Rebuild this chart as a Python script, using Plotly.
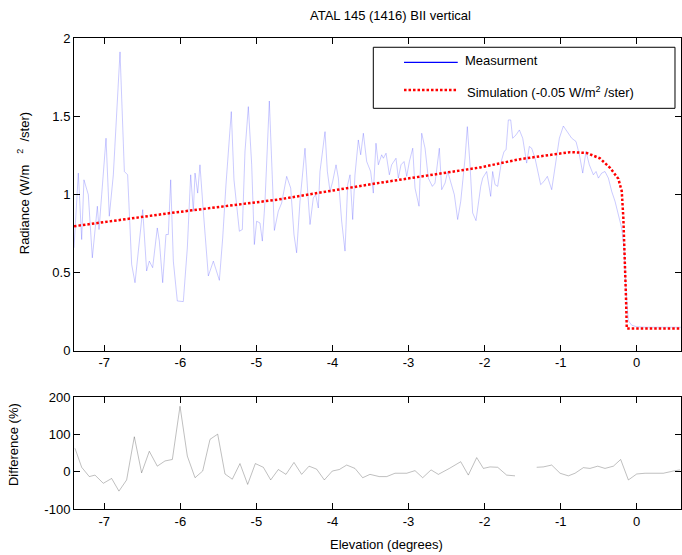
import plotly.graph_objects as go

# ---- data ----
meas_x = [-7.398, -7.341, -7.297, -7.267, -7.210, -7.157, -7.091, -7.069, -7.034, -6.977,
          -6.934, -6.881, -6.793, -6.736, -6.693, -6.640, -6.596, -6.552, -6.495, -6.443,
          -6.408, -6.364, -6.303, -6.276, -6.232, -6.189, -6.158, -6.127, -6.092, -6.040,
          -5.961, -5.908, -5.864, -5.829, -5.807, -5.772, -5.742, -5.698, -5.632, -5.566,
          -5.487, -5.443, -5.400, -5.330, -5.295, -5.224, -5.185, -5.150, -5.106, -5.062,
          -5.027, -4.997, -4.953, -4.922, -4.887, -4.830, -4.799, -4.764, -4.712, -4.668,
          -4.602, -4.549, -4.506, -4.471, -4.427, -4.361, -4.326, -4.295, -4.252, -4.221,
          -4.186, -4.164, -4.098, -4.067, -4.032, -3.997, -3.953, -3.923, -3.879, -3.835,
          -3.800, -3.769, -3.734, -3.704, -3.660, -3.629, -3.594, -3.550, -3.498, -3.463,
          -3.428, -3.397, -3.353, -3.331, -3.296, -3.252, -3.222, -3.165, -3.134, -3.099,
          -3.059, -3.024, -2.989, -2.945, -2.915, -2.862, -2.827, -2.783, -2.740, -2.687,
          -2.652, -2.595, -2.564, -2.520, -2.485, -2.455, -2.398, -2.354, -2.314, -2.257,
          -2.227, -2.192, -2.157, -2.113, -2.051, -2.025, -1.973, -1.920, -1.894, -1.863,
          -1.828, -1.775, -1.745, -1.718, -1.688, -1.657, -1.631, -1.587, -1.543, -1.499,
          -1.469, -1.447, -1.412, -1.381, -1.337, -1.293, -1.263, -1.219, -1.175, -1.118,
          -1.074, -1.017, -0.965, -0.912, -0.855, -0.798, -0.754, -0.710, -0.667, -0.623,
          -0.570, -0.535, -0.504, -0.461, -0.417, -0.373, -0.329, -0.285, -0.242, -0.198,
          -0.167, -0.141, -0.110, -0.066, 0.000, 0.109, 0.580]
meas_y = [0.658, 1.136, 0.711, 1.093, 0.998, 0.594, 0.924, 0.775, 0.998, 1.359,
          0.860, 1.125, 1.911, 1.146, 1.125, 0.552, 0.435, 0.658, 0.902, 0.510,
          0.573, 0.531, 0.785, 0.701, 0.435, 0.743, 0.743, 1.093, 0.573, 0.318,
          0.314, 0.658, 1.125, 0.892, 1.136, 1.008, 1.189, 0.892, 0.478, 0.573,
          0.450, 0.722, 1.062, 1.529, 1.093, 0.764, 0.775, 1.274, 1.561, 1.189,
          0.679, 0.828, 0.817, 0.701, 0.955, 1.597, 1.189, 0.769, 0.892, 0.945,
          1.115, 1.040, 0.743, 0.626, 0.955, 1.295, 1.019, 0.807, 0.977, 0.998,
          0.913, 1.146, 1.401, 1.146, 1.019, 1.083, 1.189, 1.104, 0.828, 0.637,
          1.062, 1.125, 0.839, 1.125, 1.348, 1.253, 1.391, 1.210, 1.146, 1.008,
          1.327, 1.189, 1.253, 1.231, 1.263, 1.125, 1.189, 1.231, 1.104, 1.189,
          1.210, 1.115, 1.210, 1.295, 1.040, 0.924, 1.391, 1.295, 1.104, 1.051,
          1.072, 1.295, 1.030, 1.072, 1.146, 1.093, 0.998, 0.839, 0.955, 1.231,
          1.433, 1.189, 0.881, 0.832, 1.051, 1.104, 1.146, 0.987, 1.146, 1.062,
          1.051, 1.221, 1.274, 1.285, 1.476, 1.476, 1.359, 1.380, 1.412, 1.359,
          1.274, 1.200, 1.306, 1.295, 1.231, 1.125, 1.062, 1.083, 1.115, 1.030,
          1.189, 1.359, 1.437, 1.401, 1.359, 1.338, 1.253, 1.136, 1.274, 1.189,
          1.125, 1.146, 1.104, 1.136, 1.146, 1.104, 1.019, 0.955, 0.870, 0.785,
          0.658, 0.382, 0.191, 0.163, 0.153, 0.150, 0.150]

sim_x = [-7.398, -6.135, -4.712, -3.428, -2.060, -1.534, -0.877, -0.657, -0.483, -0.351,
         -0.242, -0.197, -0.176, -0.154, -0.141, -0.131, 0.582]
sim_y = [0.796, 0.880, 0.967, 1.070, 1.172, 1.225, 1.270, 1.265, 1.230, 1.170,
         1.100, 1.020, 0.850, 0.590, 0.340, 0.142, 0.142]

diff_x = [-7.385, -7.297, -7.197, -7.122, -7.013, -6.903, -6.807, -6.706, -6.605, -6.509,
          -6.408, -6.303, -6.202, -6.105, -6.004, -5.908, -5.807, -5.706, -5.610, -5.509,
          -5.413, -5.317, -5.216, -5.115, -5.014, -4.909, -4.812, -4.712, -4.611, -4.506,
          -4.405, -4.308, -4.208, -4.107, -4.002, -3.910, -3.813, -3.704, -3.603, -3.507,
          -3.384, -3.287, -3.178, -3.024, -2.915, -2.814, -2.704, -2.608, -2.463, -2.314,
          -2.214, -2.104, -2.016, -1.929, -1.828, -1.710, -1.600, -1.450, -1.315, -1.228,
          -1.118, -1.008, -0.899, -0.811, -0.702, -0.614, -0.513, -0.417, -0.307, -0.211,
          -0.110, 0.000, 0.109, 0.219, 0.350, 0.482, 0.569]
diff_y = [63, 12, -13, -9, -31, -18, -52, -22, 94, -3,
          55, 15, 29, 33, 176, 42, -16, 2, 87, 101,
          -6, -20, 22, -34, 22, 12, -22, 6, -7, 25,
          -7, 15, 7, -22, 2, 6, 18, 9, -16, -7,
          -13, -13, -4, -4, 3, -16, 5, -7, 9, 27,
          -9, 38, 9, 13, 12, -9, -11, None, 12, 13,
          18, -4, -11, -4, 11, 9, 15, 9, 15, 33,
          -22, -6, -4, -4, -4, 2, 5]

x_ticks = [-7, -6, -5, -4, -3, -2, -1, 0]
x_labels = ["-7", "-6", "-5", "-4", "-3", "-2", "-1", "0"]
rad_ticks = [0, 0.5, 1, 1.5, 2]
rad_labels = ["0", "0.5", "1", "1.5", "2"]
diff_ticks = [-100, 0, 100, 200]
diff_labels = ["-100", "0", "100", "200"]

FONT = "Liberation Sans, Arial, sans-serif"
X_RANGE = [-7.398, 0.582]

fig = go.Figure()
fig.add_trace(go.Scatter(x=meas_x, y=meas_y, mode="lines", xaxis="x", yaxis="y",
                         line=dict(color="rgba(70,70,255,0.28)", width=1), showlegend=False))
fig.add_trace(go.Scatter(x=sim_x, y=sim_y, mode="lines", xaxis="x", yaxis="y",
                         line=dict(color="#ff0000", width=2.5, dash="2.5px,2px"), showlegend=False))
fig.add_trace(go.Scatter(x=diff_x, y=diff_y, mode="lines", xaxis="x2", yaxis="y2",
                         connectgaps=False,
                         line=dict(color="rgba(0,0,0,0.25)", width=1), showlegend=False))

ax_common = dict(showline=True, linecolor="black", linewidth=1, mirror="ticks",
                 ticks="inside", ticklen=6, tickcolor="black", showgrid=False,
                 zeroline=False, automargin=False,
                 tickfont=dict(family=FONT, size=13, color="black"))

fig.update_layout(
    template="none",
    width=682, height=555,
    margin=dict(l=74, r=1, t=38, b=46, autoexpand=False),
    paper_bgcolor="white", plot_bgcolor="white",
    font=dict(family=FONT, size=13, color="black"),
    showlegend=False,
    xaxis=dict(domain=[0, 1], anchor="y", range=X_RANGE, tickvals=x_ticks, ticktext=x_labels,
               **ax_common),
    yaxis=dict(domain=[0.3361, 1], anchor="x", range=[0, 2], tickvals=rad_ticks,
               ticktext=rad_labels, **ax_common),
    xaxis2=dict(domain=[0, 1], anchor="y2", range=X_RANGE, tickvals=x_ticks, ticktext=x_labels,
                **ax_common),
    yaxis2=dict(domain=[0, 0.2372], anchor="x2", range=[-100, 200], tickvals=diff_ticks,
                ticktext=diff_labels, **ax_common),
)

# legend box drawn by hand (MATLAB-style)
fig.add_shape(type="rect", xref="paper", yref="paper", x0=0.4931, x1=0.9901, y0=0.8507, y1=0.9803,
              line=dict(color="black", width=1), fillcolor="white", layer="above")
fig.add_shape(type="line", xref="paper", yref="paper", x0=0.5437, x1=0.6322, y0=0.9484, y1=0.9484,
              line=dict(color="#0000ff", width=1.2), layer="above")
fig.add_shape(type="line", xref="paper", yref="paper", x0=0.5437, x1=0.6322, y0=0.8896, y1=0.8896,
              line=dict(color="#ff0000", width=2.5, dash="2.5px,2px"), layer="above")

annotations = [
    dict(text="Measurment", x=0.6404, y=0.9518, xanchor="left", yanchor="middle"),
    dict(text="Simulation (-0.05 W/m<sup>2</sup> /ster)", x=0.6442, y=0.886,
         xanchor="left", yanchor="middle"),
    dict(text="ATAL 145 (1416) BII vertical", x=0.5206, y=1.0488, xanchor="center", yanchor="middle"),
    dict(text="Elevation (degrees)", x=0.5148, y=-0.0764, xanchor="center", yanchor="middle"),
    dict(text="Radiance (W/m\u00a0\u00a0\u00a0<sup>2</sup>\u00a0\u00a0/ster)", x=-0.0845, y=0.691,
         xanchor="center", yanchor="middle", textangle=-90),
    dict(text="Difference (%)", x=-0.0988, y=0.1359, xanchor="center", yanchor="middle", textangle=-90),
]
for a in annotations:
    fig.add_annotation(xref="paper", yref="paper", showarrow=False,
                       font=dict(family=FONT, size=13, color="black"), **a)

fig.write_html("out.html", config={"responsive": False, "displayModeBar": False},
               post_script="document.body.style.margin='0';document.body.style.overflow='hidden';")
